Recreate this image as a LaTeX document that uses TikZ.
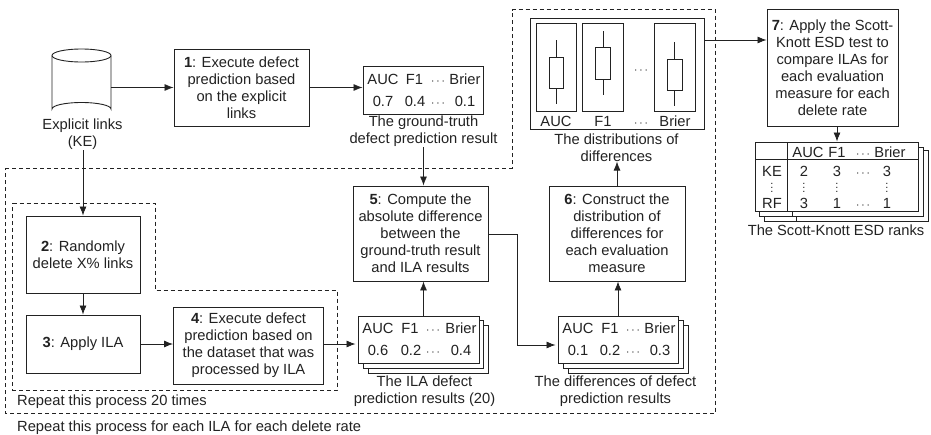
\documentclass[tikz,border=0pt]{standalone}
\usepackage{fontspec}
\setmainfont{Liberation Sans}
\usetikzlibrary{arrows.meta}
\definecolor{ink}{HTML}{222222}
\tikzset{
  base/.style={font=\fontsize{14.7}{17}\selectfont,text=ink},
  boxn/.style={base,draw=ink,line width=0.9pt,fill=white,align=center,inner sep=0pt},
  lab/.style={base,align=center,inner sep=0pt},
  cell/.style={base,anchor=base,inner sep=0pt},
  dotcell/.style={cell,font=\fontsize{12}{12}\selectfont},
  vdotcell/.style={cell,font=\fontsize{11}{12}\selectfont},
  sheet/.style={draw=ink,line width=0.9pt,fill=white},
  thin box/.style={draw=ink,line width=0.9pt},
  dash box/.style={draw=ink,line width=0.8pt,dash pattern=on 4pt off 3pt},
  flow/.style={draw=ink,line width=0.8pt,-{Latex[length=9pt,width=7pt]}},
}
\newcommand{\stacksheets}[1]{%
  \draw[sheet] (#1+20,325) rectangle (#1+140,373);
  \draw[sheet] (#1+15,320) rectangle (#1+135,368);
}
\begin{document}
\begin{tikzpicture}[x=1pt,y=-1pt]
\useasboundingbox (0,0) rectangle (931,434);
% dashed frames
\draw[dash box] (5,168) -- (512,168) -- (512,9.5) -- (715.5,9.5) -- (715.5,413) -- (5,413) -- cycle;
\draw[dash box] (12.5,203) -- (155,203) -- (155,290) -- (337,290) -- (337,390) -- (12.5,390) -- cycle;
\node[lab,anchor=base west] (rep20) at (17,405) {Repeat this process 20 times};
\node[lab,anchor=base west] (repall) at (17,431) {Repeat this process for each ILA for each delete rate};
% cylinder
\node[minimum width=59pt,minimum height=67pt,inner sep=0pt] (cyl) at (81.5,82.5) {};
\draw[thin box] (52,55.5) -- (52,109) arc[start angle=180,end angle=360,x radius=29.5pt,y radius=-6.5pt] -- (111,55.5);
\draw[thin box] (81.5,55.5) ellipse[x radius=29.5pt,y radius=6.5pt];
\node[lab] (kel) at (82.5,134.5) {Explicit links\\(KE)};
% process boxes
\node[boxn,minimum width=135pt,minimum height=77pt] (b1) at (241.5,87.5) {\textbf{1}: Execute defect\\prediction based\\on the explicit\\links};
\node[boxn,minimum width=114pt,minimum height=77pt] (b2) at (83,254.5) {\textbf{2}: Randomly\\delete X\% links};
\node[boxn,minimum width=114pt,minimum height=58pt] (b3) at (83,344) {\textbf{3}: Apply ILA};
\node[boxn,minimum width=150pt,minimum height=77pt] (b4) at (248.5,345.5) {\textbf{4}: Execute defect\\prediction based on\\the dataset that was\\processed by ILA};
\node[boxn,minimum width=135pt,minimum height=95pt] (b5) at (420.5,233.5) {\textbf{5}: Compute the\\absolute difference\\between the\\ground-truth result\\and ILA results};
\node[boxn,minimum width=136pt,minimum height=95pt] (b6) at (617,233.5) {\textbf{6}: Construct the\\distribution of\\differences for\\each evaluation\\measure};
\node[boxn,minimum width=131pt,minimum height=117pt] (b7) at (832.5,68) {\textbf{7}: Apply the Scott-\\Knott ESD test to\\compare ILAs for\\each evaluation\\measure for each\\delete rate};
% ground-truth table
\node[boxn,minimum width=120pt,minimum height=48pt] (gt) at (423,90) {};
\node[cell] (gta) at (383,84) {AUC};
\node[cell] (gtb) at (414.5,84) {F1};
\node[dotcell] (gtc) at (438,84) {$\cdots$};
\node[cell] (gtd) at (465,84) {Brier};
\node[cell] (gte) at (383,106) {0.7};
\node[cell] (gtf) at (415,106) {0.4};
\node[dotcell] (gtg) at (438,106) {$\cdots$};
\node[cell] (gth) at (465,106) {0.1};
\node[lab] (gtl) at (423.5,131.5) {The ground-truth\\defect prediction result};
% ILA stack
\stacksheets{348}
\node[boxn,minimum width=121pt,minimum height=47pt] (il) at (418.5,339.5) {};
\node[cell] (ila) at (378,333) {AUC};
\node[cell] (ilb) at (410,333) {F1};
\node[dotcell] (ilc) at (433,333) {$\cdots$};
\node[cell] (ild) at (461,333) {Brier};
\node[cell] (ile) at (378,355) {0.6};
\node[cell] (ilf) at (411,355) {0.2};
\node[dotcell] (ilg) at (433,355) {$\cdots$};
\node[cell] (ilh) at (461,355) {0.4};
\node[lab] (ill) at (424.5,391.5) {The ILA defect\\prediction results (20)};
% differences stack
\stacksheets{548}
\node[boxn,minimum width=120pt,minimum height=47pt] (df) at (618,339.5) {};
\node[cell] (dfa) at (578,333) {AUC};
\node[cell] (dfb) at (610,333) {F1};
\node[dotcell] (dfc) at (633,333) {$\cdots$};
\node[cell] (dfd) at (660,333) {Brier};
\node[cell] (dfe) at (578,355) {0.1};
\node[cell] (dff) at (610,355) {0.2};
\node[dotcell] (dfg) at (633,355) {$\cdots$};
\node[cell] (dfh) at (660,355) {0.3};
\node[lab] (dfl) at (615.5,391.5) {The differences of defect\\prediction results};
% distributions
\node[boxn,minimum width=174pt,minimum height=111pt] (dist) at (617,73.5) {};
\draw[thin box] (536.5,23.5) rectangle (576.5,111);
\draw[thin box] (582.5,23.5) rectangle (623,111);
\draw[thin box] (654.5,23.5) rectangle (695,111);
\draw[thin box] (556,40) -- (556,57) (556,88) -- (556,104) (549,57) rectangle (563.5,88);
\draw[thin box] (603,31) -- (603,47.5) (603,79) -- (603,95) (595.5,47.5) rectangle (610,79);
\draw[thin box] (674.5,42) -- (674.5,59) (674.5,90) -- (674.5,106) (667,59) rectangle (682,90);
\node[dotcell] (dsd) at (641,73) {$\cdots$};
\node[cell] (dsa) at (556,126) {AUC};
\node[cell] (dsb) at (603,126) {F1};
\node[dotcell] (dsc) at (641,126) {$\cdots$};
\node[cell] (dse) at (675,126) {Brier};
\node[lab] (dsl) at (616.5,147.5) {The distributions of\\differences};
% ranks table
\draw[sheet] (764,150) rectangle (928,221);
\draw[sheet] (759,147) rectangle (923,216);
\draw[thin box] (796,216) -- (796,221) (792,211) -- (792,216);
\node[boxn,minimum width=163pt,minimum height=69pt] (rk) at (836.5,176.5) {};
\draw[thin box] (755,159) -- (918,159) (787,142) -- (787,211);
\node[cell] (rka) at (808,157) {AUC};
\node[cell] (rkb) at (837,157) {F1};
\node[dotcell] (rkc) at (863,157) {$\cdots$};
\node[cell] (rkd) at (890,157) {Brier};
\node[cell] (rke) at (772,176) {KE};
\node[cell] (rkf) at (804,176) {2};
\node[cell] (rkg) at (837,176) {3};
\node[dotcell] (rkh) at (863,176) {$\cdots$};
\node[cell] (rki) at (887,176) {3};
\node[vdotcell] (rkj) at (772,192) {\smash{$\vdots$}};
\node[vdotcell] (rkk) at (804,192) {\smash{$\vdots$}};
\node[vdotcell] (rkl) at (837,192) {\smash{$\vdots$}};
\node[vdotcell] (rkm) at (887,192) {\smash{$\vdots$}};
\node[cell] (rkn) at (772,208) {RF};
\node[cell] (rko) at (804,208) {3};
\node[cell] (rkp) at (837,208) {1};
\node[dotcell] (rkq) at (863,208) {$\cdots$};
\node[cell] (rkr) at (887,208) {1};
\node[lab] (rkl2) at (836,230) {The Scott-Knott ESD ranks};
% connectors
\draw[flow] (cyl.east |- b1.west) -- (b1.west);
\draw[flow] (b1.east) -- (b1.east -| gt.west);
\draw[flow] (kel.south -| b2.north) -- (b2.north);
\draw[flow] (b2.south) -- (b3.north);
\draw[flow] (b3.east) -- (b3.east -| b4.west);
\draw[flow,shorten >=2pt] (b3.east -| b4.east) -- (b3.east -| il.west);
\draw[flow] (gtl.south) -- (gtl.south |- b5.north);
\draw[flow] (il.north -| gtl.south) -- (gtl.south |- b5.south);
\coordinate (bend) at (517,234);
\draw[flow,shorten >=2pt] (b5.east |- bend) -- (bend) |- (df.west |- 0,345);
\draw[flow] (df.north) -- (df.north |- b6.south);
\draw[flow] (b6.north) -- (b6.north |- dsl.south);
\coordinate (dout) at (704,40);
\draw[flow] (dout) -- (dout -| b7.west);
\draw[flow] (b7.south -| rkg) -- (rk.north -| rkg);
\end{tikzpicture}
\end{document}
